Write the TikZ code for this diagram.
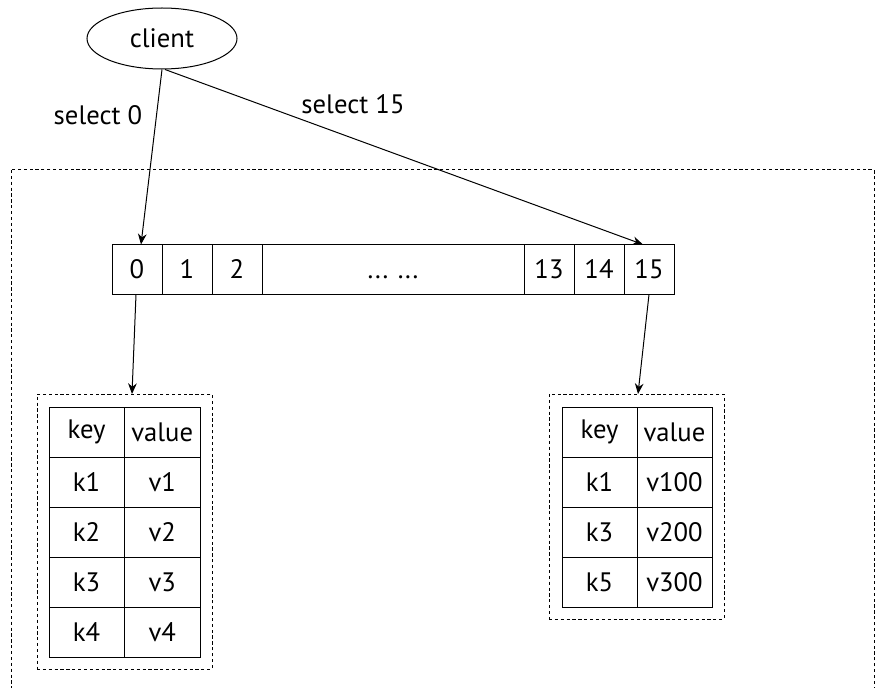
\documentclass[tikz,border=0pt]{standalone}
\usepackage{fontspec}
\setmainfont{PT Sans}
\usetikzlibrary{arrows.meta,calc,shapes.geometric}
\begin{document}
\begin{tikzpicture}[x=0.75pt,y=-0.75pt,
  every node/.style={font=\fontsize{20}{24}\selectfont},
  cellbox/.style={draw,line width=0.75pt,inner sep=0pt,outer sep=0pt,minimum width=37.5pt,minimum height=37.5pt},
  dotbox/.style={cellbox,minimum width=196.5pt},
  tabcell/.style={draw,line width=0.75pt,inner sep=0pt,outer sep=0pt,minimum width=56.25pt,minimum height=37.5pt},
  dashbox/.style={draw,line width=0.75pt,dash pattern=on 2.4pt off 2pt,inner sep=0pt,outer sep=0pt},
  conn/.style={line width=0.75pt,-{Stealth[length=8pt,width=6.5pt]}}
]
\useasboundingbox (0,0) rectangle (889,688);
\begin{scope}
\clip (0,0) rectangle (889,688);
\draw[dashbox] (11,170) rectangle (874,720);
\end{scope}
% client
\node[draw,ellipse,line width=0.75pt,minimum width=112.5pt,minimum height=45.75pt,inner sep=0pt] (client) at (162,38.5) {client};
% array
\node[cellbox] (c0) at (137,269.5) {0};
\node[cellbox] (c1) at (187,269.5) {1};
\node[cellbox] (c2) at (237,269.5) {2};
\node[dotbox] (cd) at (393,269.5) {\vphantom{0}... ...};
\node[cellbox] (c13) at (549,269.5) {13};
\node[cellbox] (c14) at (599,269.5) {14};
\node[cellbox] (c15) at (649,269.5) {15};
% left table
\node[dashbox,minimum width=131.25pt,minimum height=206.25pt] (lbox) at (124.5,531.5) {};
\foreach \r/\k/\v [count=\i from 0] in {0/key/value,1/k1/v1,2/k2/v2,3/k3/v3,4/k4/v4}{
  \node[tabcell] (lk\i) at (86.5,{432+50*\i}) {\k};
  \node[tabcell,minimum width=57pt] (lv\i) at (162.25,{432+50*\i}) {\v};
}
% right table
\node[dashbox,minimum width=131.25pt,minimum height=168.75pt] (rbox) at (636.5,506.5) {};
\foreach \r/\k/\v [count=\i from 0] in {0/key/value,1/k1/v100,2/k3/v200,3/k5/v300}{
  \node[tabcell] (rk\i) at (599.5,{432+50*\i}) {\k};
  \node[tabcell] (rv\i) at (674.5,{432+50*\i}) {\v};
}
% connectors
\draw[conn] (client.south) -- ($(c0.north)+(4,0)$);
\draw[conn] ($(client.south)+(3,0)$) -- ($(c15.north)+(-6,0)$);
\draw[conn] ($(c0.south)+(-1,0)$) -- ($(lbox.north)+(7.5,0)$);
\draw[conn] (c15.south) -- ($(rbox.north)+(1.5,0)$);
% labels
\node (l0) at (98,115) {select 0};
\node (l15) at (353,104) {select 15};
\end{tikzpicture}
\end{document}
